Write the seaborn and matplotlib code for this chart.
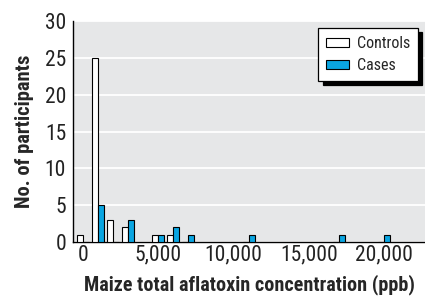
import matplotlib
matplotlib.use("Agg")
import matplotlib.pyplot as plt
from matplotlib.patches import Patch
import seaborn as sns
import pandas as pd

# Data
concentration = [0, 1000, 2000, 3000, 5000, 6000, 7000, 11000, 17000, 20000]
controls = [1, 25, 3, 2, 1, 1, 0, 0, 0, 0]
cases = [0, 5, 0, 3, 1, 2, 1, 1, 1, 1]
groups = ["Controls", "Cases"]
x_ticks = [0, 5000, 10000, 15000, 20000]
x_tick_labels = ["0", "5,000", "10,000", "15,000", "20,000"]
y_ticks = [0, 5, 10, 15, 20, 25, 30]

df = pd.DataFrame({
    "conc": concentration * 2,
    "count": controls + cases,
    "group": ["Controls"] * len(controls) + ["Cases"] * len(cases),
})

blue = "#0AA5E1"
sns.set_style("white")
plt.rcParams["font.family"] = ["Liberation Sans Narrow", "Roboto Condensed",
                               "DejaVu Sans Condensed", "Liberation Sans"]

fig = plt.figure(figsize=(4.25, 2.98), dpi=100)
ax = fig.add_axes([0.172, 0.188, 0.828, 0.74])
ax.set_facecolor("#E6E7E8")

sns.barplot(data=df, x="conc", y="count", hue="group", hue_order=groups,
            native_scale=True, width=0.8, dodge=True,
            palette={"Controls": "white", "Cases": blue},
            edgecolor="black", linewidth=0.8, saturation=1, ax=ax,
            legend=False, zorder=3)

ax.set_xlim(-664, 22725)
ax.set_ylim(0, 30)
ax.set_xticks(x_ticks)
ax.set_xticklabels(x_tick_labels)
ax.set_yticks(y_ticks)
ax.yaxis.grid(True, color="white", linewidth=1.3, zorder=0)
ax.set_axisbelow(True)
for s in ["top", "right"]:
    ax.spines[s].set_visible(False)
ax.spines["left"].set_color("black")
ax.spines["bottom"].set_color("black")
ax.spines["left"].set_linewidth(1.0)
ax.spines["bottom"].set_linewidth(1.0)
ax.tick_params(axis="both", length=0, labelsize=15.5, colors="#222222", pad=5)
ax.tick_params(axis="x", pad=2)

ax.set_xlabel("Maize total aflatoxin concentration (ppb)", fontsize=14.5,
              fontweight="bold", labelpad=6)
ax.set_ylabel("No. of participants", fontsize=14.8, fontweight="bold",
              labelpad=8)

handles = [Patch(facecolor="white", edgecolor="black", linewidth=0.8),
           Patch(facecolor=blue, edgecolor="black", linewidth=0.8)]
leg = ax.legend(handles, groups, loc="upper right",
                bbox_to_anchor=(0.98, 0.97), frameon=True, fancybox=False,
                shadow={"ox": 3, "oy": -3, "color": "black", "alpha": 1},
                edgecolor="black", framealpha=1, fontsize=11.5,
                handlelength=1.4, handleheight=0.55, handletextpad=0.5,
                borderpad=0.5, labelspacing=0.45, borderaxespad=0)
leg.get_frame().set_linewidth(0.9)

fig.savefig("out.png", dpi=100)
